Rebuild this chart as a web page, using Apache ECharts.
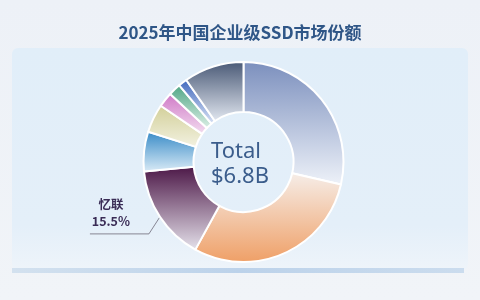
<!DOCTYPE html>
<html>
<head>
<meta charset="utf-8">
<style>
html,body{margin:0;padding:0;background:#eef1f7;}
#chart{width:480px;height:300px;}
</style>
<script src="https://cdn.jsdelivr.net/npm/echarts@6/dist/echarts.min.js"></script>
</head>
<body>
<div id="chart"></div>
<script>
// ---- data ----
const titleText = '2025年中国企业级SSD市场份额';
const centerLines = ['Total', '$6.8B'];
const vendors = ['厂商1', '厂商2', '忆联', '厂商4', '厂商5', '厂商6', '厂商7', '厂商8', '其他'];
const shares = [28.6, 29.4, 15.5, 6.4, 4.6, 2.4, 2.0, 1.4, 9.7];
const labelledVendors = ['忆联'];
// gradient stops per slice: [top colour, bottom colour]
const sliceColors = [
  ['#7b8fbd', '#eef2f9'],
  ['#f6eee9', '#ef9f66'],
  ['#4b1646', '#e6e3ec'],
  ['#3589c6', '#dcecf7'],
  ['#d2cf98', '#f3f2e2'],
  ['#cf78c6', '#f3def0'],
  ['#4fa584', '#dcefe6'],
  ['#4068bd', '#dae3f5'],
  ['#485875', '#e3e8f1']
];

const chart = echarts.init(document.getElementById('chart'), null, {renderer: 'canvas'});

const data = vendors.map((name, i) => {
  const show = labelledVendors.includes(name);
  return {
    name: name,
    value: shares[i],
    itemStyle: {
      color: new echarts.graphic.LinearGradient(0, 0, 0, 1, [
        {offset: 0, color: sliceColors[i][0]},
        {offset: 1, color: sliceColors[i][1]}
      ])
    },
    label: {show: show},
    labelLine: {show: show}
  };
});

const option = {
  backgroundColor: new echarts.graphic.LinearGradient(0, 0, 0, 1, [
    {offset: 0, color: '#edf1f7'},
    {offset: 1, color: '#f1f4f8'}
  ]),
  title: {
    text: titleText,
    left: 'center',
    top: 19,
    textStyle: {
      fontFamily: 'Noto Sans CJK SC',
      fontSize: 17,
      fontWeight: 'bold',
      color: '#2f5687'
    }
  },
  graphic: [
    {
      type: 'rect', z: -10, silent: true,
      shape: {x: 12, y: 48, width: 456, height: 222, r: 6},
      style: {
        fill: new echarts.graphic.LinearGradient(0, 0, 0, 1, [
          {offset: 0, color: '#e1eef9'},
          {offset: 0.8, color: '#e4eff9'},
          {offset: 1, color: '#eef4fa'}
        ])
      }
    },
    {
      type: 'rect', z: -9, silent: true,
      shape: {x: 12, y: 268, width: 452, height: 5},
      style: {
        fill: new echarts.graphic.LinearGradient(0, 0, 1, 0, [
          {offset: 0, color: '#d3e1ef'},
          {offset: 0.5, color: '#bcd2ea'},
          {offset: 1, color: '#cbdcee'}
        ])
      }
    },
    {
      type: 'text', left: 'center', top: 139, z: 10,
      style: {
        text: centerLines.join('\n'),
        fontFamily: 'Noto Sans',
        fontSize: 22,
        lineHeight: 25,
        fill: '#3b5d8c',
        align: 'center'
      }
    }
  ],
  series: [{
    type: 'pie',
    center: [243.5, 162],
    radius: [50, 100],
    startAngle: 90,
    clockwise: true,
    avoidLabelOverlap: false,
    itemStyle: {borderColor: '#ffffff', borderWidth: 2},
    label: {
      show: false,
      position: 'outside',
      formatter: p => p.name + '\n' + p.value.toFixed(1) + '%',
      fontFamily: 'Noto Sans CJK SC',
      fontSize: 12.5,
      fontWeight: 'bold',
      lineHeight: 17,
      color: '#3a2c56'
    },
    labelLine: {
      show: false,
      length: 20,
      length2: 58,
      lineStyle: {color: '#6d6a78', width: 0.8}
    },
    labelLayout: function (params) {
      const pts = params.labelLinePoints;
      if (!pts) return {};
      const p0 = pts[0];
      const p1 = [p0[0] - 11, p0[1] + 17];
      const p2 = [p1[0] - 59, p1[1]];
      return {
        x: p2[0] + 21,
        y: p2[1] - 4,
        align: 'center',
        verticalAlign: 'bottom',
        labelLinePoints: [p0, p1, p2]
      };
    },
    emphasis: {disabled: true},
    data: data
  }]
};
chart.setOption(option);
</script>
</body>
</html>
